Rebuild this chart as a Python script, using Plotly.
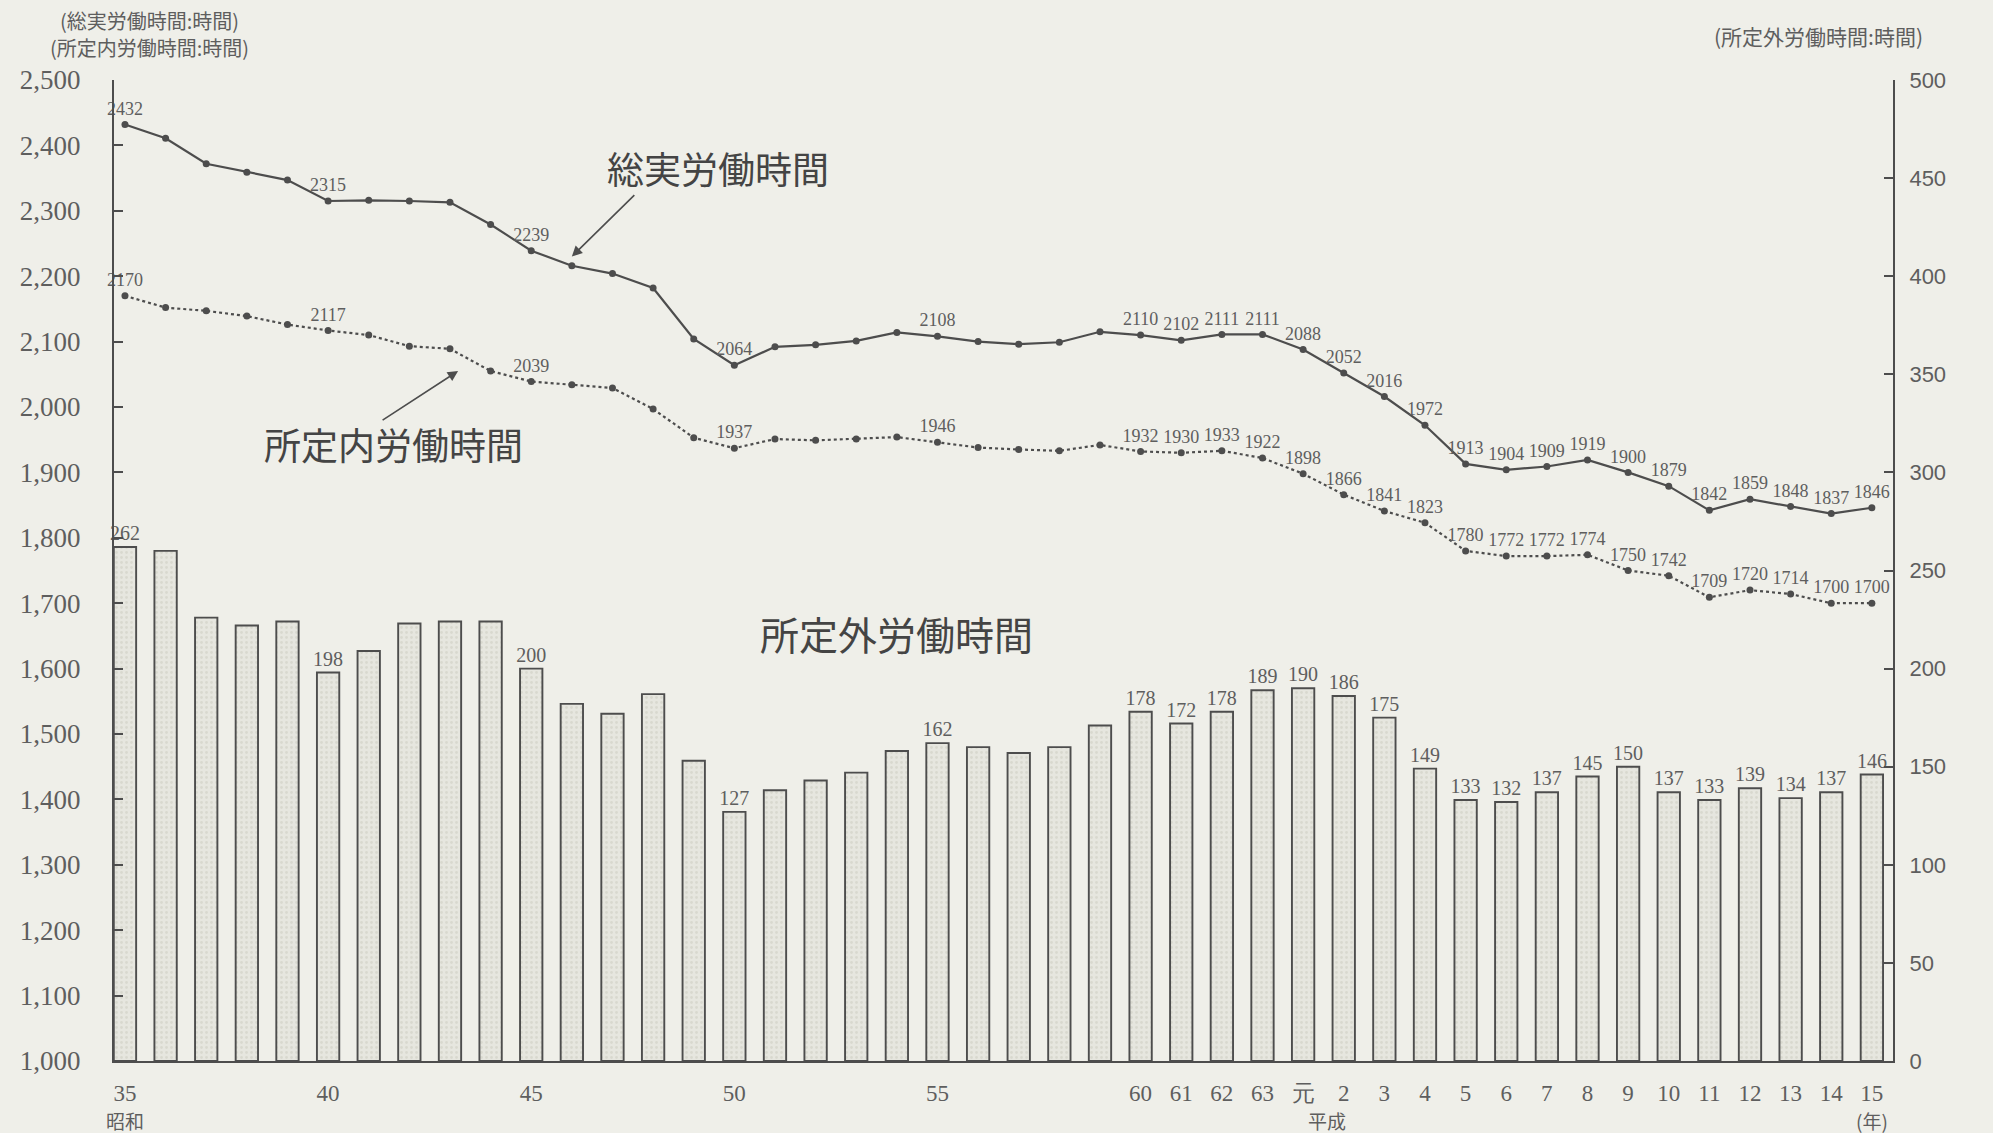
import plotly.graph_objects as go

# ---- data -------------------------------------------------------------
years = [1960, 1961, 1962, 1963, 1964, 1965, 1966, 1967, 1968, 1969,
         1970, 1971, 1972, 1973, 1974, 1975, 1976, 1977, 1978, 1979,
         1980, 1981, 1982, 1983, 1984, 1985, 1986, 1987, 1988, 1989,
         1990, 1991, 1992, 1993, 1994, 1995, 1996, 1997, 1998, 1999,
         2000, 2001, 2002, 2003]

# 総実労働時間 (left axis)
total_hours = [2432, 2411, 2372, 2359, 2347, 2315, 2316, 2315, 2313, 2279,
               2239, 2216, 2204, 2182, 2104, 2064, 2092, 2095, 2101, 2114,
               2108, 2100, 2096, 2099, 2115, 2110, 2102, 2111, 2111, 2088,
               2052, 2016, 1972, 1913, 1904, 1909, 1919, 1900, 1879, 1842,
               1859, 1848, 1837, 1846]

# 所定内労働時間 (left axis)
scheduled_hours = [2170, 2152, 2147, 2139, 2126, 2117, 2110, 2093, 2089, 2055,
                   2039, 2034, 2029, 1997, 1953, 1937, 1951, 1949, 1951, 1954,
                   1946, 1938, 1935, 1933, 1942, 1932, 1930, 1933, 1922, 1898,
                   1866, 1841, 1823, 1780, 1772, 1772, 1774, 1750, 1742, 1709,
                   1720, 1714, 1700, 1700]

# 所定外労働時間 (right axis, bars)
overtime_hours = [262, 260, 226, 222, 224, 198, 209, 223, 224, 224,
                  200, 182, 177, 187, 153, 127, 138, 143, 147, 158,
                  162, 160, 157, 160, 171, 178, 172, 178, 189, 190,
                  186, 175, 149, 133, 132, 137, 145, 150, 137, 133,
                  139, 134, 137, 146]

# indices whose values are printed in the chart
labelled_idx = [0, 5, 10, 15, 20] + list(range(25, 44))

tick_years = [1960, 1965, 1970, 1975, 1980, 1985, 1986, 1987, 1988, 1989,
              1990, 1991, 1992, 1993, 1994, 1995, 1996, 1997, 1998, 1999,
              2000, 2001, 2002, 2003]
tick_text = ["35", "40", "45", "50", "55", "60", "61", "62", "63", "元",
             "2", "3", "4", "5", "6", "7", "8", "9", "10", "11",
             "12", "13", "14", "15"]

left_ticks = [1000, 1100, 1200, 1300, 1400, 1500, 1600, 1700, 1800, 1900,
              2000, 2100, 2200, 2300, 2400, 2500]
right_ticks = [0, 50, 100, 150, 200, 250, 300, 350, 400, 450, 500]

# ---- styling ----------------------------------------------------------
BG = "#efefe9"
INK = "#4d4d4d"
TXT = "#5e5e5e"
NUM_FONT = "Liberation Serif"
JP_FONT = "Noto Sans CJK JP"


def label_list(values):
    return [str(v) if i in labelled_idx else "" for i, v in enumerate(values)]


fig = go.Figure()

fig.add_trace(go.Bar(
    x=years, y=overtime_hours, yaxis="y2", width=0.55,
    marker=dict(color="#e6e6df", line=dict(color=INK, width=1.9),
                pattern=dict(shape=".", fgcolor="#c9c9c0", size=5, solidity=0.25)),
    text=label_list(overtime_hours), textposition="outside", constraintext="none",
    textfont=dict(family=NUM_FONT, size=20, color=TXT),
    cliponaxis=False, showlegend=False, hoverinfo="x+y",
))

fig.add_trace(go.Scatter(
    x=years, y=scheduled_hours, mode="lines+markers+text",
    line=dict(color=INK, width=2.2, dash="dot"),
    marker=dict(size=7, color=INK),
    text=label_list(scheduled_hours), textposition="top center",
    textfont=dict(family=NUM_FONT, size=18, color=TXT),
    cliponaxis=False, showlegend=False,
))

fig.add_trace(go.Scatter(
    x=years, y=total_hours, mode="lines+markers+text",
    line=dict(color=INK, width=2.2),
    marker=dict(size=7, color=INK),
    text=label_list(total_hours), textposition="top center",
    textfont=dict(family=NUM_FONT, size=18, color=TXT),
    cliponaxis=False, showlegend=False,
))

annotations = [
    # axis titles
    dict(text="(総実労働時間:時間)", xref="paper", yref="paper", x=0.02, y=1.061,
         xanchor="center", yanchor="middle", showarrow=False,
         font=dict(family=JP_FONT, size=20, color=TXT)),
    dict(text="(所定内労働時間:時間)", xref="paper", yref="paper", x=0.02, y=1.033,
         xanchor="center", yanchor="middle", showarrow=False,
         font=dict(family=JP_FONT, size=20, color=TXT)),
    dict(text="(所定外労働時間:時間)", xref="paper", yref="paper", x=0.958, y=1.045,
         xanchor="center", yanchor="middle", showarrow=False,
         font=dict(family=JP_FONT, size=21, color=TXT)),
    # era labels under the x axis
    dict(text="昭和", x=1960, xref="x", yref="paper", y=-0.061, yanchor="middle",
         showarrow=False, font=dict(family=JP_FONT, size=19, color=TXT)),
    dict(text="平成", x=1989.6, xref="x", yref="paper", y=-0.061, yanchor="middle",
         showarrow=False, font=dict(family=JP_FONT, size=19, color=TXT)),
    dict(text="(年)", x=2003, xref="x", yref="paper", y=-0.061, yanchor="middle",
         showarrow=False, font=dict(family=JP_FONT, size=19, color=TXT)),
    # series names
    dict(text="総実労働時間", x=1974.6, y=2366, xref="x", yref="y", showarrow=False,
         font=dict(family=JP_FONT, size=37, color="#444444")),
    dict(text="所定内労働時間", x=1966.6, y=1944, xref="x", yref="y", showarrow=False,
         font=dict(family=JP_FONT, size=37, color="#444444")),
    dict(text="所定外労働時間", x=1979.0, y=1655, xref="x", yref="y", showarrow=False,
         font=dict(family=JP_FONT, size=39, color="#444444")),
    # arrows
    dict(text="", x=1971.0, y=2230, xref="x", yref="y", ax=64, ay=-63,
         showarrow=True, arrowhead=2, arrowsize=1.3, arrowwidth=1.6, arrowcolor=INK),
    dict(text="", x=1968.2, y=2055, xref="x", yref="y", ax=-77, ay=50,
         showarrow=True, arrowhead=2, arrowsize=1.3, arrowwidth=1.6, arrowcolor=INK),
]

fig.update_layout(
    width=1993, height=1133,
    margin=dict(l=114, r=100, t=80, b=72),
    paper_bgcolor=BG, plot_bgcolor=BG,
    bargap=0.45,
    showlegend=False,
    annotations=annotations,
    xaxis=dict(
        range=[1959.73, 2003.52], tickvals=tick_years, ticktext=tick_text,
        showgrid=False, zeroline=False, showline=True, linecolor=INK, linewidth=2,
        ticks="", ticklabelstandoff=10,
        tickfont=dict(family=NUM_FONT, size=23, color=TXT),
    ),
    yaxis=dict(
        range=[1000, 2500], tickvals=left_ticks, tickformat=",",
        showgrid=False, zeroline=False, showline=True, linecolor=INK, linewidth=2,
        ticks="inside", ticklen=9, tickwidth=2, tickcolor=INK, ticklabelstandoff=26,
        tickfont=dict(family=NUM_FONT, size=27, color=TXT),
    ),
    yaxis2=dict(
        range=[0, 500], tickvals=right_ticks, overlaying="y", side="right",
        showgrid=False, zeroline=False, showline=True, linecolor=INK, linewidth=2,
        ticks="inside", ticklen=9, tickwidth=2, tickcolor=INK, ticklabelstandoff=10,
        tickfont=dict(family="Liberation Sans", size=22, color=TXT),
    ),
)

fig.write_html(
    "out.html",
    config={"displayModeBar": False},
    post_script="document.body.style.margin='0px';"
                "document.body.style.background='" + BG + "';",
)
